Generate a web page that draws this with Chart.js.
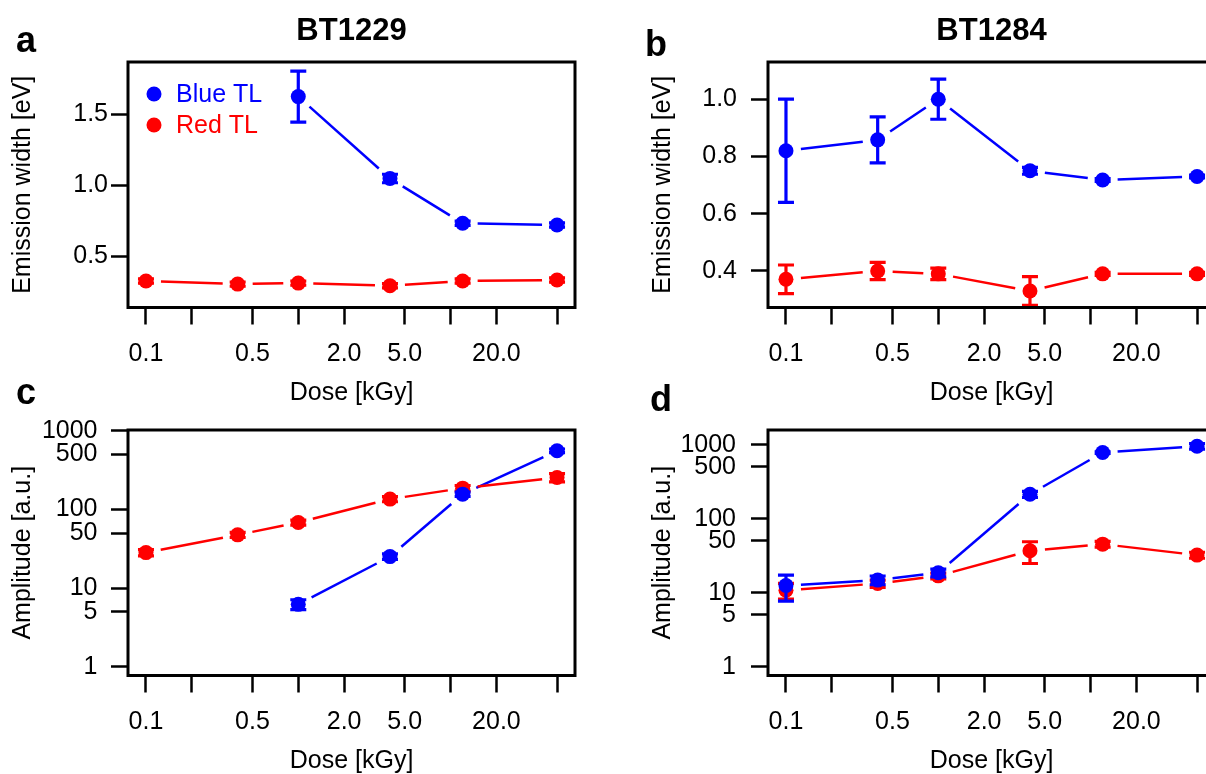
<!DOCTYPE html>
<html>
<head>
<meta charset="utf-8">
<script src="https://cdn.jsdelivr.net/npm/chart.js@4.4.1/dist/chart.umd.min.js"></script>
<style>
  html, body { margin: 0; padding: 0; background: #fff; }
  #page { position: relative; width: 1206px; height: 774px; overflow: hidden; }
  .panel { position: absolute; width: 603px; height: 410px; }
</style>
</head>
<body>
<div id="page">
  <div class="panel" style="left:0px;top:0px"><canvas id="chartA" width="603" height="410"></canvas></div>
  <div class="panel" style="left:640px;top:0px"><canvas id="chartB" width="603" height="410"></canvas></div>
  <div class="panel" style="left:0px;top:368px"><canvas id="chartC" width="603" height="410"></canvas></div>
  <div class="panel" style="left:640px;top:368px"><canvas id="chartD" width="603" height="410"></canvas></div>
</div>
<script>
// doses (kGy) and axis ticks
const doses = [0.1, 0.4, 1, 4, 12, 50];
const doseTicks = [0.1, 0.2, 0.5, 1, 2, 5, 10, 20, 50];
const doseTickLabels = ["0.1", "", "0.5", "", "2.0", "5.0", "", "20.0", ""];
const widthTicksA = [0.5, 1.0, 1.5];
const widthTickLabelsA = ["0.5", "1.0", "1.5"];
const widthTicksB = [0.4, 0.6, 0.8, 1.0];
const widthTickLabelsB = ["0.4", "0.6", "0.8", "1.0"];
const ampTicks = [1, 5, 10, 50, 100, 500, 1000];
const ampTickLabels = ["1", "5", "10", "50", "100", "500", "1000"];

// BT1229 emission width [eV]
const bt1229BlueWidth = [null, null, 1.625, 1.047, 0.731, 0.719];
const bt1229BlueWidthErr = [null, null, 0.18, 0.03, 0.015, 0.015];
const bt1229RedWidth = [0.324, 0.302, 0.309, 0.290, 0.324, 0.331];
const bt1229RedWidthErr = [0.015, 0.015, 0.015, 0.015, 0.015, 0.015];

// BT1284 emission width [eV]
const bt1284BlueWidth = [0.82, 0.858, 1.0, 0.75, 0.718, 0.73];
const bt1284BlueWidthErr = [0.18, 0.08, 0.07, 0.012, 0.005, 0.005];
const bt1284RedWidth = [0.371, 0.40, 0.39, 0.33, 0.39, 0.39];
const bt1284RedWidthErr = [0.05, 0.03, 0.02, 0.05, 0.005, 0.005];

// BT1229 amplitude [a.u.]
const bt1229BlueAmp = [null, null, 6.2, 25.1, 156, 555];
const bt1229BlueAmpErr = [null, null, 0.9, 2, 10, 30];
const bt1229RedAmp = [28.2, 47.4, 68, 135, 186, 254];
const bt1229RedAmpErr = [2.5, 3.5, 5, 10, 15, 30];

// BT1284 amplitude [a.u.]
const bt1284BlueAmp = [12.5, 14.8, 18.6, 214, 782, 951];
const bt1284BlueAmpErr = [4.8, 2, 2.2, 20, 20, 80];
const bt1284RedAmp = [10.8, 13.3, 16.9, 36.8, 45.3, 32.2];
const bt1284RedAmpErr = [2.6, 1.5, 1.5, 12, 4, 3];

const BLUE = "#0000ff";
const RED = "#ff0000";
const FONT = "'Liberation Sans', Arial, sans-serif";
Chart.defaults.font.family = FONT;
Chart.defaults.color = "#000";

function series(label, color, values, errors) {
  return {
    label: label,
    data: doses.map((d, i) => ({ x: d, y: values[i] })),
    errors: errors,
    showLine: false,
    pointRadius: 7.5,
    pointHoverRadius: 7.5,
    pointBorderWidth: 0,
    pointBackgroundColor: color,
    borderColor: color,
    backgroundColor: color
  };
}

// R style "b" lines: segments stop short of the points
const gapLines = {
  id: "gapLines",
  beforeDatasetsDraw(chart) {
    const ctx = chart.ctx;
    const gap = 15;
    chart.data.datasets.forEach((ds, i) => {
      const pts = chart.getDatasetMeta(i).data.filter(p => !p.skip);
      ctx.save();
      ctx.strokeStyle = ds.borderColor;
      ctx.lineWidth = 2.5;
      for (let k = 0; k < pts.length - 1; k++) {
        const a = pts[k], b = pts[k + 1];
        const dx = b.x - a.x, dy = b.y - a.y;
        const len = Math.sqrt(dx * dx + dy * dy);
        if (len <= 2 * gap) continue;
        const ux = dx / len, uy = dy / len;
        ctx.beginPath();
        ctx.moveTo(a.x + ux * gap, a.y + uy * gap);
        ctx.lineTo(b.x - ux * gap, b.y - uy * gap);
        ctx.stroke();
      }
      ctx.restore();
    });
  }
};

const errorBars = {
  id: "errorBars",
  afterDatasetDraw(chart, args) {
    const ds = chart.data.datasets[args.index];
    if (!ds.errors) return;
    const ctx = chart.ctx;
    const yScale = chart.scales.y;
    ctx.save();
    ctx.strokeStyle = ds.borderColor;
    ctx.lineWidth = 3.2;
    args.meta.data.forEach((p, j) => {
      const v = ds.data[j].y, e = ds.errors[j];
      if (v == null || e == null) return;
      const top = yScale.getPixelForValue(v + e);
      const bot = yScale.getPixelForValue(v - e);
      ctx.beginPath();
      ctx.moveTo(p.x, top); ctx.lineTo(p.x, bot);
      ctx.moveTo(p.x - 8, top); ctx.lineTo(p.x + 8, top);
      ctx.moveTo(p.x - 8, bot); ctx.lineTo(p.x + 8, bot);
      ctx.stroke();
    });
    ctx.restore();
  }
};

const frame = {
  id: "frame",
  afterDatasetsDraw(chart, args, opts) {
    const ctx = chart.ctx;
    const a = chart.chartArea;
    ctx.save();
    ctx.strokeStyle = "#000";
    ctx.lineWidth = 3;
    ctx.strokeRect(a.left, a.top, a.right - a.left, a.bottom - a.top);
    // panel letter and title
    ctx.fillStyle = "#000";
    ctx.textBaseline = "alphabetic";
    ctx.textAlign = "left";
    ctx.font = "bold 36px " + FONT;
    ctx.fillText(opts.letter, opts.letterX, opts.letterY);
    if (opts.title) {
      ctx.textAlign = "center";
      ctx.font = "bold 31px " + FONT;
      ctx.fillText(opts.title, (a.left + a.right) / 2, 40);
    }
    // legend inside the box
    if (opts.legend) {
      ctx.font = "25px " + FONT;
      ctx.textAlign = "left";
      ctx.textBaseline = "middle";
      chart.data.datasets.forEach((ds, i) => {
        const y = 94 + i * 31;
        ctx.fillStyle = ds.borderColor;
        ctx.beginPath();
        ctx.arc(154, y, 7.5, 0, Math.PI * 2);
        ctx.fill();
        ctx.fillText(ds.label, 176, y + 1);
      });
    }
    ctx.restore();
  }
};

function gridOpts() {
  return {
    display: true,
    drawOnChartArea: false,
    drawTicks: true,
    tickLength: 17,
    tickWidth: 2.5,
    tickColor: "#000",
    color: "#000"
  };
}

function makeChart(id, datasets, yCfg, panel) {
  return new Chart(document.getElementById(id), {
    type: "line",
    data: { datasets: datasets },
    options: {
      responsive: false,
      animation: false,
      layout: { padding: { left: 0, top: 62, right: 28, bottom: 0 } },
      plugins: {
        legend: { display: false },
        tooltip: { enabled: false },
        frame: panel
      },
      scales: {
        x: {
          type: "logarithmic",
          position: "bottom",
          min: 0.0762,
          max: 65.6,
          border: { display: false },
          grid: gridOpts(),
          afterBuildTicks: s => { s.ticks = doseTicks.map(v => ({ value: v })); },
          afterFit: s => { s.height = 102.5; },
          ticks: {
            autoSkip: false,
            maxRotation: 0,
            padding: 15,
            font: { size: 25 },
            color: "#000",
            callback: v => doseTickLabels[doseTicks.indexOf(v)]
          },
          title: {
            display: true,
            text: "Dose [kGy]",
            font: { size: 25 },
            color: "#000",
            padding: { top: 0, bottom: 2 }
          }
        },
        y: {
          type: yCfg.type,
          position: "left",
          min: yCfg.min,
          max: yCfg.max,
          border: { display: false },
          grid: gridOpts(),
          afterBuildTicks: s => { s.ticks = yCfg.ticks.map(v => ({ value: v })); },
          afterFit: s => { s.width = 128; },
          ticks: {
            autoSkip: false,
            padding: yCfg.pad,
            font: { size: 25 },
            color: "#000",
            callback: v => yCfg.labels[yCfg.ticks.indexOf(v)]
          },
          title: {
            display: true,
            text: yCfg.title,
            font: { size: 25 },
            color: "#000",
            padding: { top: 8, bottom: 0 }
          }
        }
      }
    },
    plugins: [gapLines, errorBars, frame]
  });
}

makeChart("chartA",
  [series("Blue TL", BLUE, bt1229BlueWidth, bt1229BlueWidthErr),
   series("Red TL", RED, bt1229RedWidth, bt1229RedWidthErr)],
  { type: "linear", min: 0.137, max: 1.869, ticks: widthTicksA, labels: widthTickLabelsA, pad: 3, title: "Emission width [eV]" },
  { letter: "a", letterX: 16, letterY: 52, title: "BT1229", legend: true });

makeChart("chartB",
  [series("Blue TL", BLUE, bt1284BlueWidth, bt1284BlueWidthErr),
   series("Red TL", RED, bt1284RedWidth, bt1284RedWidthErr)],
  { type: "linear", min: 0.2725, max: 1.130, ticks: widthTicksB, labels: widthTickLabelsB, pad: 14, title: "Emission width [eV]" },
  { letter: "b", letterX: 5, letterY: 56, title: "BT1284", legend: false });

makeChart("chartC",
  [series("Blue TL", BLUE, bt1229BlueAmp, bt1229BlueAmpErr),
   series("Red TL", RED, bt1229RedAmp, bt1229RedAmpErr)],
  { type: "logarithmic", min: 0.773, max: 1020, ticks: ampTicks, labels: ampTickLabels, pad: 13.5, title: "Amplitude [a.u.]" },
  { letter: "c", letterX: 16, letterY: 36, title: "", legend: false });

makeChart("chartD",
  [series("Blue TL", BLUE, bt1284BlueAmp, bt1284BlueAmpErr),
   series("Red TL", RED, bt1284RedAmp, bt1284RedAmpErr)],
  { type: "logarithmic", min: 0.761, max: 1578, ticks: ampTicks, labels: ampTickLabels, pad: 15, title: "Amplitude [a.u.]" },
  { letter: "d", letterX: 10, letterY: 43, title: "", legend: false });
</script>
</body>
</html>
